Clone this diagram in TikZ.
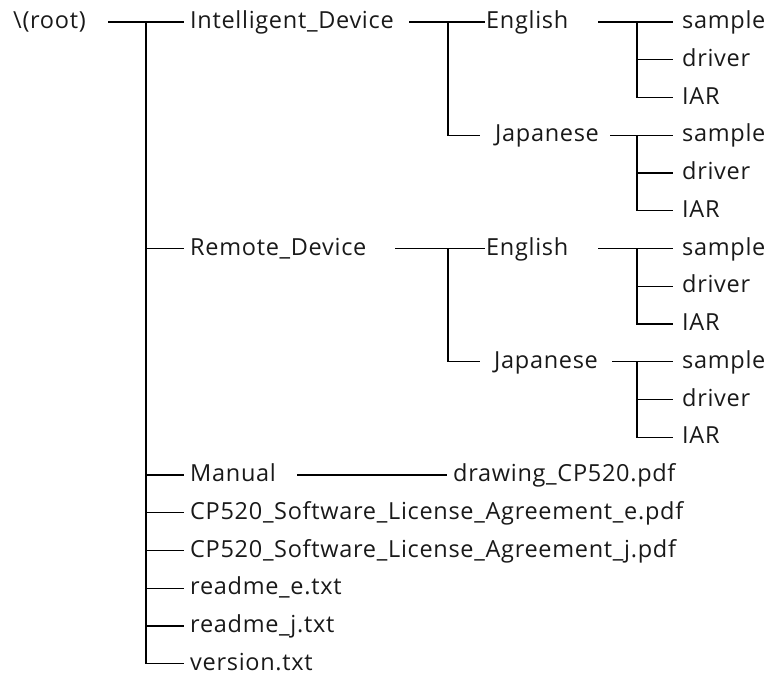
\documentclass[tikz,border=0pt]{standalone}
\usepackage{fontspec}
\setmainfont{Open Sans}[LetterSpace=3]
\begin{document}
\begin{tikzpicture}[x=1pt,y=-1pt,
  lbl/.style={anchor=west,inner sep=0pt,text height=17pt,text depth=4pt,font=\fontsize{23.5}{28}\selectfont,text=black!90},
  conn/.style={draw=black,line width=1.1pt}]
\useasboundingbox (0,0) rectangle (769,680);
% level 0
\node[lbl] (root) at (13,22) {\textbackslash(root)};
% level 1
\node[lbl] (id)  at (190,22) {Intelligent\_Device};
\node[lbl] (rd)  at (190,248.5) {Remote\_Device};
\node[lbl] (man) at (190,475) {Manual};
\node[lbl] (le)  at (190,512.75) {CP520\_Software\_License\_Agreement\_e.pdf};
\node[lbl] (lj)  at (190,550.5) {CP520\_Software\_License\_Agreement\_j.pdf};
\node[lbl] (re)  at (190,588.25) {readme\_e.txt};
\node[lbl] (rj)  at (190,626) {readme\_j.txt};
\node[lbl] (ver) at (190,663.75) {version.txt};
% level 2
\node[lbl] (en1) at (486,22) {English};
\node[lbl] (jp1) at (495,135.25) {Japanese};
\node[lbl] (en2) at (486,248.5) {English};
\node[lbl] (jp2) at (494,361.75) {Japanese};
\node[lbl] (drw) at (453,475) {drawing\_CP520.pdf};
% level 3
\node[lbl] (s1) at (682,22) {sample};
\node[lbl] (d1) at (682,59.75) {driver};
\node[lbl] (i1) at (682,97.5) {IAR};
\node[lbl] (s2) at (682,135.25) {sample};
\node[lbl] (d2) at (682,173) {driver};
\node[lbl] (i2) at (682,210.75) {IAR};
\node[lbl] (s3) at (682,248.5) {sample};
\node[lbl] (d3) at (682,286.25) {driver};
\node[lbl] (i3) at (682,324) {IAR};
\node[lbl] (s4) at (682,361.75) {sample};
\node[lbl] (d4) at (682,399.5) {driver};
\node[lbl] (i4) at (682,437.25) {IAR};
% junction coordinates
\coordinate (rootR) at (108,22);
\coordinate (trunk) at (146,22);
\coordinate (idR) at (409,22);
\coordinate (idV) at (448,22);
\coordinate (rdR) at (395,248.5);
\coordinate (rdV) at (448,248.5);
\coordinate (e1R) at (598,22);
\coordinate (e1V) at (637,22);
\coordinate (j1R) at (610,135.25);
\coordinate (j1V) at (637,135.25);
\coordinate (e2R) at (598,248.5);
\coordinate (e2V) at (637,248.5);
\coordinate (j2R) at (612,361.75);
\coordinate (j2V) at (637,361.75);
\coordinate (manR) at (297,475);
% root and trunk
\draw[conn] (rootR) -- ([xshift=-6pt]id.west);
\draw[conn] (trunk) |- ([xshift=-6pt]ver.west);
\foreach \n in {rd,man,le,lj,re,rj}
  \draw[conn] (trunk |- \n.west) -- ([xshift=-6pt]\n.west);
% Intelligent_Device subtree
\draw[conn] (idR) -- ([xshift=-1pt]en1.west);
\draw[conn] (idV) |- ([xshift=-15pt]jp1.west);
% Remote_Device subtree
\draw[conn] (rdR) -- ([xshift=-1pt]en2.west);
\draw[conn] (rdV) |- ([xshift=-14pt]jp2.west);
% Manual
\draw[conn] (manR) -- ([xshift=-6pt]drw.west);
% language subtrees
\draw[conn] (e1R) -- ([xshift=-9pt]s1.west);
\draw[conn] (e1V) |- ([xshift=-9pt]i1.west);
\draw[conn] (e1V |- d1.west) -- ([xshift=-9pt]d1.west);
\draw[conn] (j1R) -- ([xshift=-9pt]s2.west);
\draw[conn] (j1V) |- ([xshift=-9pt]i2.west);
\draw[conn] (j1V |- d2.west) -- ([xshift=-9pt]d2.west);
\draw[conn] (e2R) -- ([xshift=-9pt]s3.west);
\draw[conn] (e2V) |- ([xshift=-9pt]i3.west);
\draw[conn] (e2V |- d3.west) -- ([xshift=-9pt]d3.west);
\draw[conn] (j2R) -- ([xshift=-9pt]s4.west);
\draw[conn] (j2V) |- ([xshift=-9pt]i4.west);
\draw[conn] (j2V |- d4.west) -- ([xshift=-9pt]d4.west);
\end{tikzpicture}
\end{document}
